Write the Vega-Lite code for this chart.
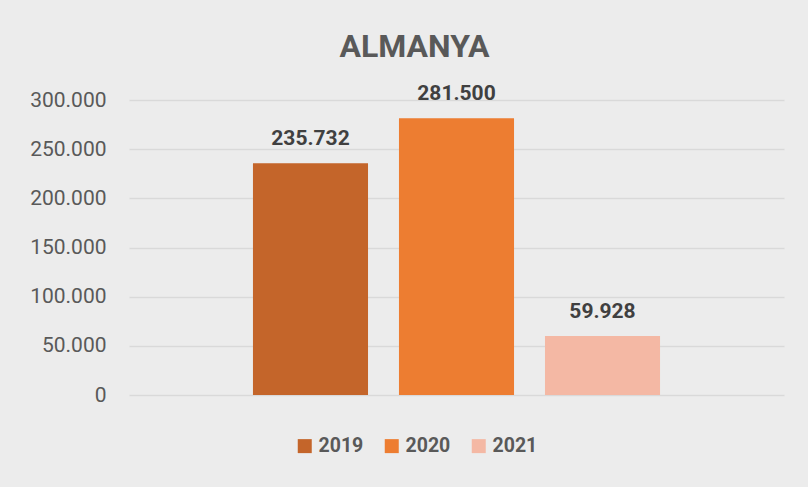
{
  "$schema": "https://vega.github.io/schema/vega-lite/v6.json",
  "autosize": {"type": "none"},
  "padding": {"left": 129, "top": 100, "right": 24, "bottom": 92},
  "width": 655,
  "height": 295,
  "background": "#ececec",
  "title": {
    "text": "ALMANYA",
    "font": "Roboto",
    "fontSize": 32,
    "fontWeight": "bold",
    "color": "#595959",
    "anchor": "middle",
    "baseline": "alphabetic",
    "dx": -42,
    "offset": -6
  },
  "data": {
    "values": [
      {"year": "2019", "value": 235732},
      {"year": "2020", "value": 281500},
      {"year": "2021", "value": 59928}
    ]
  },
  "encoding": {
    "x": {
      "field": "year",
      "type": "nominal",
      "scale": {"paddingInner": 0.212, "paddingOuter": 0.849},
      "axis": null
    },
    "y": {
      "field": "value",
      "type": "quantitative",
      "scale": {"domain": [0, 300000], "nice": false},
      "axis": {
        "values": [0, 50000, 100000, 150000, 200000, 250000, 300000],
        "labelExpr": "format(datum.value, ',')",
        "title": null,
        "domain": false,
        "ticks": false,
        "labelPadding": 23,
        "labelFont": "Roboto",
        "labelFontSize": 21,
        "labelColor": "#595959",
        "gridColor": "#d9d9d9",
        "gridWidth": 1.5
      }
    }
  },
  "layer": [
    {
      "mark": {"type": "bar"},
      "encoding": {
        "color": {
          "field": "year",
          "type": "nominal",
          "scale": {"domain": ["2019", "2020", "2021"], "range": ["#C4652A", "#ED7D31", "#F4B8A4"]},
          "legend": {
            "title": null,
            "orient": "none",
            "legendX": 166,
            "legendY": 336,
            "direction": "horizontal",
            "symbolType": "square",
            "symbolSize": 196,
            "symbolStrokeWidth": 0,
            "labelFont": "Roboto",
            "labelFontSize": 19.5,
            "labelFontWeight": "bold",
            "labelColor": "#595959",
            "labelOffset": 4,
            "columnPadding": 18
          }
        }
      }
    },
    {
      "mark": {
        "type": "text",
        "dy": -18,
        "baseline": "alphabetic",
        "font": "Roboto",
        "fontSize": 21,
        "fontWeight": "bold",
        "color": "#404040"
      },
      "encoding": {
        "text": {"field": "value", "type": "quantitative", "format": ","}
      }
    }
  ],
  "config": {
    "locale": {
      "number": {"decimal": ",", "thousands": ".", "grouping": [3], "currency": ["", " €"]}
    },
    "view": {"stroke": null}
  }
}
